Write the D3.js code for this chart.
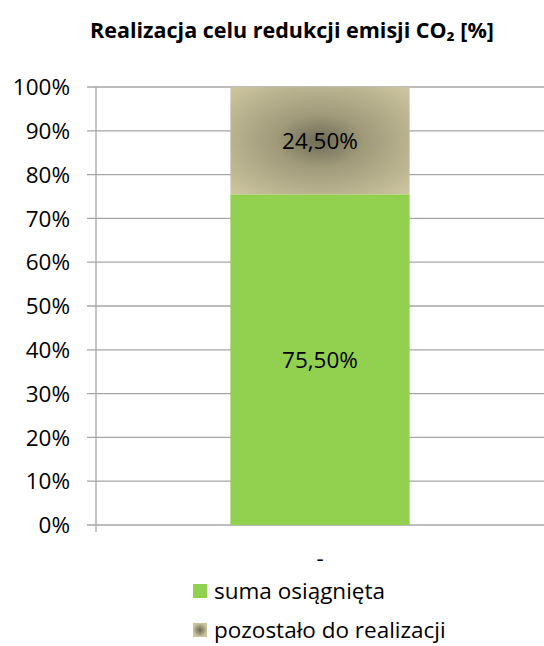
<!DOCTYPE html>
<html><head><meta charset="utf-8">
<script src="https://cdn.jsdelivr.net/npm/d3@7"></script>
<style>body{margin:0;background:#fff}svg text{font-family:"Open Sans",sans-serif}</style>
</head><body><svg id="c" width="544" height="646"></svg>
<script>
const categories = ["-"];
const seriesNames = ["suma osiągnięta", "pozostało do realizacji"];
const achieved = [75.5];
const remaining = [24.5];
const yTicks = [0,10,20,30,40,50,60,70,80,90,100];

const svg = d3.select("#c");
const W = 544, H = 646;
const m = {left: 96, right: 0, top: 87, bottom: 121};
const x = d3.scaleBand().domain(categories).range([m.left, W - m.right]).paddingInner(0.6).paddingOuter(0.3);
const y = d3.scaleLinear().domain([0, 100]).range([H - m.bottom, m.top]);

const defs = svg.append("defs");
const rg = defs.append("radialGradient").attr("id","g2").attr("cx","50%").attr("cy","50%").attr("r","70%");
rg.append("stop").attr("offset","0%").attr("stop-color","#6e6a56");
rg.append("stop").attr("offset","35%").attr("stop-color","#a09a7a");
rg.append("stop").attr("offset","100%").attr("stop-color","#cec6a0");

svg.append("text").attr("x", 292).attr("y", 38).attr("text-anchor","middle")
  .attr("font-weight","bold").attr("font-size", 21.5).text("Realizacja celu redukcji emisji CO₂ [%]");

// grid
svg.append("g").selectAll("line").data(yTicks).join("line")
  .attr("x1", m.left - 9).attr("x2", W - m.right).attr("y1", d => y(d)).attr("y2", d => y(d))
  .attr("stroke", "#a6a6a6").attr("stroke-width", 1.3);
svg.append("line").attr("x1", m.left).attr("x2", m.left).attr("y1", y(100)).attr("y2", y(0) + 7)
  .attr("stroke", "#a6a6a6").attr("stroke-width", 1.3);

svg.append("g").selectAll("text").data(yTicks).join("text")
  .attr("x", 70).attr("y", d => y(d)).attr("dy", "0.36em").attr("text-anchor","end")
  .attr("font-size", 22.5).attr("fill","#000").text(d => d + "%");

const bw = x.bandwidth();
svg.append("g").selectAll("rect").data(categories).join("rect")
  .attr("x", d => x(d)).attr("width", bw)
  .attr("y", (d,i) => y(achieved[i])).attr("height", (d,i) => y(0) - y(achieved[i]))
  .attr("fill", "#92d050");
svg.append("g").selectAll("rect").data(categories).join("rect")
  .attr("x", d => x(d)).attr("width", bw)
  .attr("y", (d,i) => y(achieved[i] + remaining[i])).attr("height", (d,i) => y(achieved[i]) - y(achieved[i] + remaining[i]))
  .attr("fill", "url(#g2)");

const fmt = v => v.toFixed(2).replace(".", ",") + "%";
categories.forEach((c, i) => {
  svg.append("text").attr("x", x(c) + bw/2).attr("y", y(achieved[i]/2)).attr("dy","0.36em")
    .attr("text-anchor","middle").attr("font-size", 22.5).text(fmt(achieved[i]));
  svg.append("text").attr("x", x(c) + bw/2).attr("y", y(achieved[i] + remaining[i]/2)).attr("dy","0.36em")
    .attr("text-anchor","middle").attr("font-size", 22.5).text(fmt(remaining[i]));
  svg.append("text").attr("x", x(c) + bw/2).attr("y", 566).attr("text-anchor","middle")
    .attr("font-size", 22.5).text(c);
});

const lg = defs.append("radialGradient").attr("id","g3");
lg.append("stop").attr("offset","0%").attr("stop-color","#6b6753");
lg.append("stop").attr("offset","100%").attr("stop-color","#cdc59e");
const fills = ["#92d050", "url(#g3)"];
seriesNames.forEach((s, i) => {
  const yy = 591 + i * 39;
  svg.append("rect").attr("x", 193).attr("y", yy - 7).attr("width", 14).attr("height", 14).attr("fill", fills[i]);
  svg.append("text").attr("x", 214).attr("y", yy).attr("dy","0.36em").attr("font-size", 22.5).text(s);
});
</script></body></html>
